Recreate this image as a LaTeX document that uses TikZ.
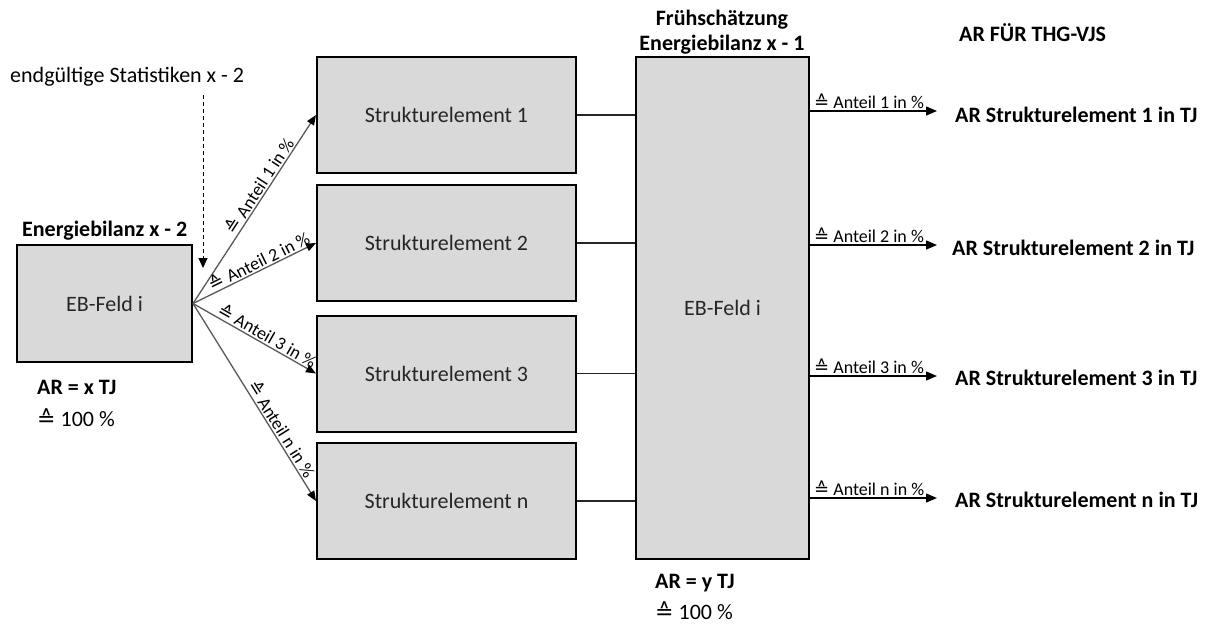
\documentclass[tikz,border=0pt]{standalone}
\usepackage{fontspec}
\setmainfont{Carlito}
\newfontfamily\symfont{DejaVu Sans}
\usetikzlibrary{arrows.meta,calc}
\definecolor{boxgray}{HTML}{D9D9D9}
\definecolor{linegray}{HTML}{595959}
\definecolor{txtcol}{HTML}{262626}
\newcommand\entspr{{\symfont\char"2259}}
\begin{document}
\begin{tikzpicture}[x=1pt,y=-1pt,
  box/.style={draw=black, line width=2pt, fill=boxgray, inner sep=0pt, text=txtcol,
    font=\fontsize{22}{26}\selectfont},
  txt/.style={inner sep=0pt, text=black, font=\fontsize{22}{26}\selectfont},
  btxt/.style={inner sep=0pt, text=black, font=\bfseries\fontsize{22}{26}\selectfont},
  lab/.style={inner sep=1.5pt, text=black, font=\fontsize{18}{21}\selectfont},
  fan/.style={draw=linegray, line width=1.3pt, -{Triangle[length=10pt,width=8pt,color=black]}},
  conn/.style={draw=black!85, line width=1.3pt},
  rarrow/.style={draw=black, line width=1.4pt, -{Triangle[length=11pt,width=9pt]}},
  dasharrow/.style={draw=black, line width=1pt, dash pattern=on 4pt off 3pt, -{Triangle[length=10pt,width=9pt]}}
]
\useasboundingbox (0,0) rectangle (1205,625);

% left part
\node[txt, anchor=west] (stat) at (10,77) {endgültige Statistiken x - 2};
\node[box, minimum width=175pt, minimum height=117pt] (eb) at (104.5,303.5) {EB-Feld i};
\node[btxt, anchor=west] (ebt) at (22,231) {Energiebilanz x - 2};
\node[btxt, anchor=west] (arx) at (37,387) {AR = x TJ};
\node[txt, anchor=west] (pcx) at (37,418) {\entspr{} 100 \%};
\coordinate (ds) at (203,95);
\coordinate (de) at (203,268);
\draw[dasharrow] (ds) -- (de);

% structure elements
\node[box, minimum width=259pt, minimum height=116pt] (s1) at (446.5,115) {Strukturelement 1};
\node[box, minimum width=259pt, minimum height=116pt] (s2) at (446.5,243) {Strukturelement 2};
\node[box, minimum width=259pt, minimum height=116pt] (s3) at (446.5,373.5) {Strukturelement 3};
\node[box, minimum width=259pt, minimum height=116pt] (sn) at (446.5,501) {Strukturelement n};

% fan arrows
\draw[fan] (eb.east) -- node[lab, sloped, above, pos=0.6] {\entspr{} Anteil 1 in \%} (s1.west);
\draw[fan] (eb.east) -- node[lab, sloped, above, pos=0.57] {\entspr{} Anteil 2 in \%} (s2.west);
\draw[fan] (eb.east) -- node[lab, sloped, above, pos=0.57] {\entspr{} Anteil 3 in \%} (s3.west);
\draw[fan] (eb.east) -- node[lab, sloped, above, pos=0.66] {\entspr{} Anteil n in \%} (sn.west);

% big box
\node[box, minimum width=173pt, minimum height=502pt] (big) at (722.5,308) {EB-Feld i};
\node[btxt] (bt1) at (722,20) {Frühschätzung};
\node[btxt] (bt2) at (722,45) {Energiebilanz x - 1};
\node[btxt, anchor=west] (ary) at (655,583) {AR = y TJ};
\node[txt, anchor=west] (pcy) at (655,611) {\entspr{} 100 \%};

\draw[conn] (s1.east) -- (s1.east -| big.west);
\draw[conn] (s2.east) -- (s2.east -| big.west);
\draw[conn] (s3.east) -- (s3.east -| big.west);
\draw[conn] (sn.east) -- (sn.east -| big.west);

% right side
\node[btxt, anchor=west] (head) at (959,33) {AR FÜR THG-VJS};
\node[btxt, anchor=west] (t1) at (955,115) {AR Strukturelement 1 in TJ};
\node[btxt, anchor=west] (t2) at (952,248) {AR Strukturelement 2 in TJ};
\node[btxt, anchor=west] (t3) at (955,378) {AR Strukturelement 3 in TJ};
\node[btxt, anchor=west] (tn) at (955,500) {AR Strukturelement n in TJ};
\coordinate (e1) at (937,111);
\coordinate (e2) at (937,245);
\coordinate (e3) at (937,376);
\coordinate (en) at (937,498);
\draw[rarrow] (big.east |- e1) -- node[lab, anchor=south west, pos=0, xshift=2pt] {\entspr{} Anteil 1 in \%} (e1);
\draw[rarrow] (big.east |- e2) -- node[lab, anchor=south west, pos=0, xshift=2pt] {\entspr{} Anteil 2 in \%} (e2);
\draw[rarrow] (big.east |- e3) -- node[lab, anchor=south west, pos=0, xshift=2pt] {\entspr{} Anteil 3 in \%} (e3);
\draw[rarrow] (big.east |- en) -- node[lab, anchor=south west, pos=0, xshift=2pt] {\entspr{} Anteil n in \%} (en);
\end{tikzpicture}
\end{document}
